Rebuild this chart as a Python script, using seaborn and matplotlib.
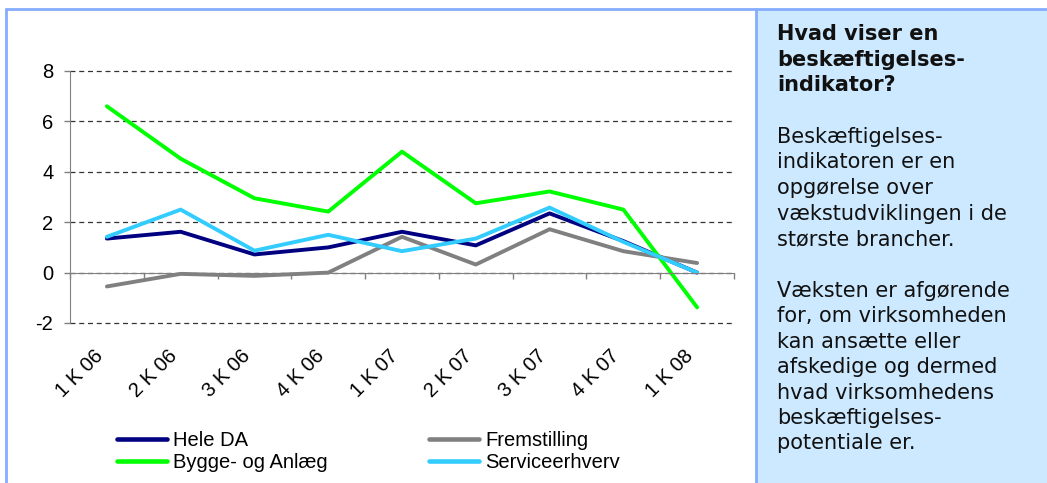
import pandas as pd
import matplotlib
matplotlib.use("Agg")
import matplotlib.pyplot as plt
import seaborn as sns
from matplotlib.patches import Rectangle
from matplotlib.lines import Line2D

# data (vækst, pct.)
kvartaler = ["1 K 06", "2 K 06", "3 K 06", "4 K 06", "1 K 07",
             "2 K 07", "3 K 07", "4 K 07", "1 K 08"]
hele_da = [1.35, 1.62, 0.72, 1.0, 1.62, 1.08, 2.35, 1.25, 0.0]
fremstilling = [-0.55, -0.05, -0.13, 0.0, 1.42, 0.32, 1.72, 0.85, 0.38]
bygge = [6.6, 4.52, 2.95, 2.42, 4.8, 2.75, 3.22, 2.5, -1.38]
service = [1.42, 2.5, 0.87, 1.5, 0.85, 1.35, 2.58, 1.22, 0.0]

serier = ["Hele DA", "Fremstilling", "Bygge- og Anlæg", "Serviceerhverv"]
farver = {"Hele DA": "#000080", "Fremstilling": "#808080",
          "Bygge- og Anlæg": "#00FF00", "Serviceerhverv": "#33CCFF"}
yticks = [-2, 0, 2, 4, 6, 8]

sidebar_titel = ["Hvad viser en", "beskæftigelses-", "indikator?"]
sidebar_afsnit1 = ["Beskæftigelses-", "indikatoren er en", "opgørelse over",
                   "vækstudviklingen i de", "største brancher."]
sidebar_afsnit2 = ["Væksten er afgørende", "for, om virksomheden",
                   "kan ansætte eller", "afskedige og dermed",
                   "hvad virksomhedens", "beskæftigelses-", "potentiale er."]

# long format for seaborn
rows = []
for navn, vals in zip(serier, [hele_da, fremstilling, bygge, service]):
    for i, v in enumerate(vals):
        rows.append({"nr": i, "vaekst": v, "serie": navn})
df = pd.DataFrame(rows)

sns.set_style("white")
plt.rcParams["font.family"] = ["Liberation Sans", "DejaVu Sans"]
plt.rcParams["axes.unicode_minus"] = False
plt.rcParams["text.color"] = "black"
plt.rcParams["xtick.labelcolor"] = "black"
plt.rcParams["ytick.labelcolor"] = "black"

W, H = 1047, 483
fig = plt.figure(figsize=(W / 100, H / 100), dpi=100)

# panel frame + info box
kant = "#86ACFF"
fig.add_artist(Rectangle((756 / W, 0), (W - 756) / W, 1 - 9 / H,
                         transform=fig.transFigure, facecolor="#CCE9FF",
                         edgecolor="none", zorder=0))
fig.add_artist(Line2D([6 / W, 1], [1 - 9 / H, 1 - 9 / H], transform=fig.transFigure,
                      color=kant, lw=2))
fig.add_artist(Line2D([6 / W, 6 / W], [0, 1 - 9 / H], transform=fig.transFigure,
                      color=kant, lw=2))
fig.add_artist(Line2D([756 / W, 756 / W], [0, 1 - 9 / H], transform=fig.transFigure,
                      color=kant, lw=2))

ax = fig.add_axes([70 / W, 1 - 323 / H, 664 / W, 252 / H])
ax.set_facecolor("none")

sns.lineplot(data=df, x="nr", y="vaekst", hue="serie", hue_order=serier,
             palette=farver, linewidth=2.8, ax=ax)
handles, labels = ax.get_legend_handles_labels()
ax.get_legend().remove()

ax.set_xlim(-0.5, len(kvartaler) - 0.5)
ax.set_ylim(-2, 8)
ax.set_xlabel("")
ax.set_ylabel("")

# axes styling (Excel look)
for s in ["top", "right"]:
    ax.spines[s].set_visible(False)
ax.spines["left"].set_color("#808080")
ax.spines["bottom"].set_color("#808080")
ax.spines["bottom"].set_position(("data", 0))

ax.set_yticks(yticks)
ax.set_yticklabels([str(t) for t in yticks], fontsize=14.5)
ax.tick_params(axis="y", left=True, length=4, width=1, color="#808080", pad=8)
ax.yaxis.grid(True, linestyle=(0, (4, 3)), color="#333333", linewidth=0.9)
for gl in ax.yaxis.get_gridlines():
    gl.set_clip_on(False)
ax.set_axisbelow(True)

ax.set_xticks(range(len(kvartaler)))
ax.set_xticklabels(kvartaler, fontsize=14.5, rotation=45, ha="right", va="top")
ax.set_xticks([i - 0.5 for i in range(len(kvartaler) + 1)], minor=True)
ax.tick_params(axis="x", which="major", length=0, pad=53)
ax.tick_params(axis="x", which="minor", bottom=True, length=4.5, width=1,
               color="#808080")

# legend: two columns, Excel order
order = [0, 2, 1, 3]
leg = fig.legend([handles[i] for i in order], [labels[i] for i in order],
                 ncol=2, loc="upper left", bbox_to_anchor=(117 / W, 1 - 431 / H),
                 frameon=False, fontsize=14.5, handlelength=2.5, handletextpad=0.3,
                 columnspacing=5.0, labelspacing=0.15, borderpad=0, borderaxespad=0)
for ln in leg.get_lines():
    ln.set_linewidth(3.3)
for t in leg.get_texts():
    t.set_color("black")

# info box text
tx = 777 / W
for i, linje in enumerate(sidebar_titel):
    fig.text(tx, 1 - (40 + i * 25.5) / H, linje, fontsize=15, fontweight="bold",
             family="DejaVu Sans", va="baseline", color="#111111")
for i, linje in enumerate(sidebar_afsnit1):
    fig.text(tx, 1 - (143 + i * 25.5) / H, linje, fontsize=15,
             family="DejaVu Sans", va="baseline", color="#111111")
for i, linje in enumerate(sidebar_afsnit2):
    fig.text(tx, 1 - (297 + i * 25.4) / H, linje, fontsize=15,
             family="DejaVu Sans", va="baseline", color="#111111")

fig.savefig("out.png", dpi=100)
